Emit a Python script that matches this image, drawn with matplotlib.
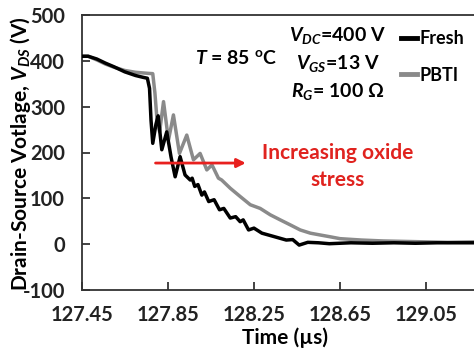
import matplotlib
matplotlib.use("Agg")
import matplotlib.pyplot as plt

plt.rcParams['font.family'] = ['Lato', 'DejaVu Sans']
plt.rcParams['font.weight'] = 'bold'
plt.rcParams['mathtext.fontset'] = 'custom'
plt.rcParams['mathtext.rm'] = 'Lato:bold'
plt.rcParams['mathtext.it'] = 'Lato:italic:bold'
plt.rcParams['mathtext.bf'] = 'Lato:bold'

# Data
fresh_t = [127.45, 127.48, 127.52, 127.56, 127.60, 127.65, 127.70, 127.735, 127.755, 127.765,
           127.772, 127.78, 127.795, 127.805, 127.822, 127.845, 127.865, 127.884, 127.907, 127.93,
           127.954, 127.963, 127.975, 127.99, 128.008, 128.02, 128.04, 128.065, 128.09, 128.11,
           128.14, 128.165, 128.186, 128.2, 128.225, 128.25, 128.287, 128.34, 128.40, 128.43,
           128.46, 128.50, 128.55, 128.60, 128.70, 128.80, 128.90, 129.00, 129.10, 129.20, 129.27]
fresh_v = [410, 410, 404, 395, 387, 376, 368, 364, 362, 340,
           270, 220, 262, 280, 206, 245, 190, 147, 191, 151,
           140, 144, 126, 130, 107, 114, 93, 97, 75, 78,
           57, 60, 49, 53, 31, 35, 24, 17, 9, 10,
           -2, 4, 3, 1, 3, 2, 3, 2, 3, 3, 3]

pbti_t = [127.45, 127.48, 127.52, 127.56, 127.60, 127.65, 127.70, 127.75, 127.78, 127.79,
          127.80, 127.812, 127.83, 127.853, 127.876, 127.904, 127.938, 127.969, 128.0, 128.031,
          128.055, 128.085, 128.10, 128.14, 128.186, 128.233, 128.279, 128.326, 128.372, 128.419,
          128.465, 128.512, 128.558, 128.605, 128.65, 128.75, 128.85, 128.95, 129.05, 129.15, 129.27]
pbti_v = [410, 410, 402, 393, 386, 379, 375, 373, 372, 330,
          270, 245, 311, 227, 282, 198, 238, 184, 198, 162,
          173, 144, 140, 122, 104, 86, 78, 64, 53, 42,
          31, 24, 20, 16, 12, 9, 7, 6, 5, 4, 5]

series_labels = ["Fresh", "PBTI"]
x_ticks = [127.45, 127.85, 128.25, 128.65, 129.05]
y_ticks = [-100, 0, 100, 200, 300, 400, 500]

fig = plt.figure(figsize=(4.74, 3.48), dpi=100)
ax = fig.add_axes([81.7/474, 58/348, 1 - 81.7/474, 275/348])

ax.plot(fresh_t, fresh_v, color='black', lw=2.5, zorder=3, solid_joinstyle='round')
ax.plot(pbti_t, pbti_v, color='#8a8a8a', lw=2.5, zorder=2, solid_joinstyle='round')

ax.set_xlim(127.45, 129.272)
ax.set_ylim(-100, 500)
ax.set_xticks(x_ticks)
ax.set_xticklabels([f"{v:.2f}" for v in x_ticks], fontweight='bold')
ax.set_yticks(y_ticks)
ax.set_yticklabels([str(v) for v in y_ticks], fontweight='bold')
ax.tick_params(direction='in', length=6, width=1.2, labelsize=14.5, colors='#222222')
ax.tick_params(axis='x', pad=10.5)
ax.tick_params(axis='y', pad=12)
for s in ['left', 'bottom', 'top']:
    ax.spines[s].set_linewidth(1.3)
    ax.spines[s].set_color('#333333')
ax.spines['right'].set_visible(False)

ax.set_xlabel("Time (µs)", fontsize=15, fontweight='bold')
ax.xaxis.set_label_coords(0.518, -0.135)
ax.set_ylabel(r"Drain-Source Votlage, $V_{DS}$ (V)", fontsize=15, fontweight='bold')
ax.yaxis.set_label_coords(-0.125, 0.495)

ax.annotate("", xy=(128.225, 177), xytext=(127.78, 177),
            arrowprops=dict(arrowstyle='-|>', color='#e8201e', lw=2, mutation_scale=13))
ax.text(128.64, 199, "Increasing oxide", color='#e0231f', fontsize=15, fontweight='bold',
        ha='center', va='center')
ax.text(128.64, 140, "stress", color='#e0231f', fontsize=15, fontweight='bold',
        ha='center', va='center')

ax.text(128.168, 406, r"$T$ = 85 $^{\rm o}$C", fontsize=14, fontweight='bold', ha='center', va='center')
ax.text(128.64, 456, r"$V_{DC}$=400 V", fontsize=14, fontweight='bold', ha='center', va='center')
ax.text(128.64, 395, r"$V_{GS}$=13 V", fontsize=14, fontweight='bold', ha='center', va='center')
ax.text(128.64, 332, r"$R_{G}$= 100 Ω", fontsize=14, fontweight='bold', ha='center', va='center')

leg = ax.legend([plt.Line2D([], [], color='black', lw=3.5),
                 plt.Line2D([], [], color='#8a8a8a', lw=3.5)], series_labels,
                loc='upper left', bbox_to_anchor=(0.772, 1.005), frameon=False,
                prop={'weight': 'bold', 'size': 13},
                handlelength=0.9, handletextpad=0.15, labelspacing=1.1)

fig.savefig("out.png", dpi=100)
